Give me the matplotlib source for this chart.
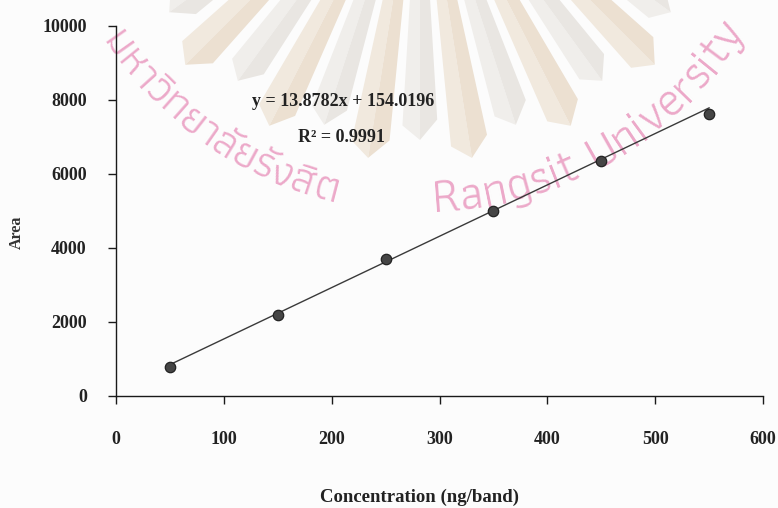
import numpy as np
import matplotlib
matplotlib.use("Agg")
import matplotlib.pyplot as plt
from matplotlib.patches import Polygon
from matplotlib.font_manager import FontProperties

# Calibration data
conc = [50, 150, 250, 350, 450, 550]          # ng/band
area = [780, 2200, 3700, 5000, 6350, 7620]    # peak area
slope = 13.8782
intercept = 154.0196
r_squared = 0.9991

x_ticks = [0, 100, 200, 300, 400, 500, 600]
y_ticks = [0, 2000, 4000, 6000, 8000, 10000]

x_label = "Concentration (ng/band)"
y_label = "Area"

mark_thai = "มหาวิทยาลัยรังสิต"
mark_latin = "Rangsit University"

W, H = 778, 508
fig = plt.figure(figsize=(W / 100, H / 100), dpi=100, facecolor="#fcfcfc")

# ---- background emblem (pixel coordinates) ----
bg = fig.add_axes([0, 0, 1, 1])
bg.set_xlim(0, W)
bg.set_ylim(H, 0)
bg.axis("off")

cx, cy = 420.0, -170.0


def polar(r, phi_deg):
    p = np.radians(phi_deg)
    return (cx + r * np.sin(p), cy + r * np.cos(p))


ray_cols = [("#f1e9de", "#ece0d1"), ("#f0eeeb", "#e9e6e2")]
for i, phi in enumerate(np.arange(-63, 67, 9)):
    r_in = 120
    r_out = 318 if i % 2 == 0 else 296
    hw = 3.4
    light, dark = ray_cols[i % 2]
    left = [polar(r_in, phi - hw), polar(r_out, phi - hw),
            polar(r_out + 14, phi), polar(r_in, phi)]
    right = [polar(r_in, phi), polar(r_out + 14, phi),
             polar(r_out - 6, phi + hw), polar(r_in, phi + hw)]
    bg.add_patch(Polygon(left, closed=True, facecolor=light, edgecolor="none"))
    bg.add_patch(Polygon(right, closed=True, facecolor=dark, edgecolor="none"))

# text along the arc
renderer = fig.canvas.get_renderer()
combining = set([0x0E31] + list(range(0x0E34, 0x0E3B)) + list(range(0x0E47, 0x0E4F)))


def clusters(s):
    out = []
    for ch in s:
        if out and ord(ch) in combining:
            out[-1] += ch
        else:
            out.append(ch)
    return out


def arc_text(s, phi_start, radius, color, fp):
    phi = phi_start
    for c in clusters(s):
        t = bg.text(0, 0, c, fontproperties=fp)
        w = t.get_window_extent(renderer).width
        t.remove()
        if c.strip() == "":
            w = fp.get_size_in_points() * 100 / 72 * 0.3
        mid = phi + np.degrees(w / 2 / radius)
        x, y = polar(radius, mid)
        if c.strip():
            bg.text(x, y, c, fontproperties=fp, color=color, rotation=mid,
                    rotation_mode="anchor", ha="center", va="baseline")
        phi += np.degrees(w / radius)


pink = "#eca9c9"
arc_text(mark_thai, -56.5, 382, pink,
         FontProperties(family=["Athiti", "DejaVu Sans"], size=32))
arc_text(mark_latin, 2.0, 382, pink,
         FontProperties(family=["Athiti", "DejaVu Sans"], size=36))

# ---- chart ----
ax = fig.add_axes([116 / W, 1 - 396 / H, (763 - 116) / W, (396 - 26) / H])
ax.patch.set_alpha(0)

x_fit = np.array([conc[0], conc[-1]], dtype=float)
y_fit = slope * x_fit + intercept
ax.plot(x_fit, y_fit, color="#3a3a3a", lw=1.0, zorder=2)
ax.plot(conc, area, "o", ms=7.5, mfc="#454545", mec="#222222", mew=0.9, zorder=3)

ax.set_xlim(0, 600)
ax.set_ylim(0, 10000)
ax.set_xticks(x_ticks)
ax.set_yticks(y_ticks)
for s in ("top", "right"):
    ax.spines[s].set_visible(False)
for s in ("left", "bottom"):
    ax.spines[s].set_color("#1a1a1a")
    ax.spines[s].set_linewidth(1.0)

tick_fp = FontProperties(family="Liberation Serif", weight="bold", size=13)
ax.tick_params(axis="y", direction="out", length=6, width=1, pad=15, colors="#1a1a1a")
ax.tick_params(axis="x", direction="out", length=6, width=1, pad=19, colors="#1a1a1a")
for lab in ax.get_xticklabels() + ax.get_yticklabels():
    lab.set_fontproperties(tick_fp)
    lab.set_color("#222222")

eq = f"y = {slope}x + {intercept}"
r2 = f"R² = {r_squared}"
fig.text(343 / W, 1 - 102 / H, eq, ha="center", va="center",
         family="Liberation Serif", weight="bold", size=13, color="#222222")
fig.text(341 / W, 1 - 138 / H, r2, ha="center", va="center",
         family="Liberation Serif", weight="bold", size=13, color="#222222")

fig.text(420 / W, 1 - 497 / H, x_label, ha="center", va="center",
         family="Liberation Serif", weight="bold", size=13.5, color="#222222")
fig.text(17 / W, 1 - 232 / H, y_label, ha="center", va="center", rotation=90,
         family="Liberation Serif", weight="bold", size=11.5, color="#333333")

fig.savefig("out.png", dpi=100, facecolor=fig.get_facecolor())
